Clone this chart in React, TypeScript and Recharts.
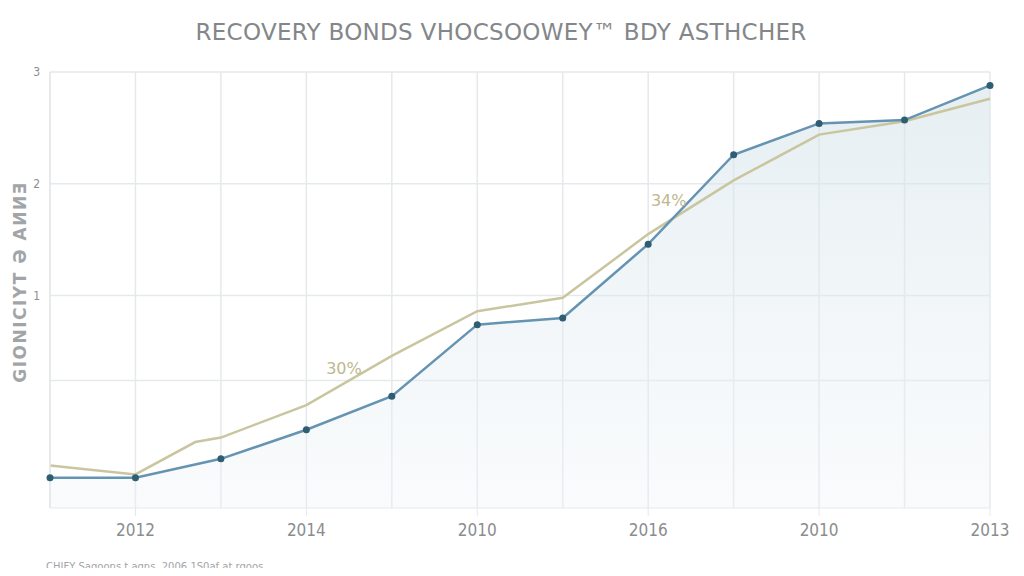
import {
  ComposedChart,
  Area,
  Line,
  XAxis,
  YAxis,
  CartesianGrid,
  ReferenceDot,
} from "recharts";

// x positions are period indices (0..11); the tan series has one extra kink point
const bluePeriods = [0, 1, 2, 3, 4, 5, 6, 7, 8, 9, 10, 11];
const blueValues = [-0.63, -0.63, -0.46, -0.2, 0.1, 0.74, 0.8, 1.46, 2.26, 2.54, 2.57, 2.88];

const tanPeriods = [0, 1, 1.7, 2, 3, 4, 5, 6, 7, 8, 9, 10, 11];
const tanValues = [-0.52, -0.6, -0.31, -0.27, 0.02, 0.46, 0.86, 0.98, 1.55, 2.03, 2.44, 2.56, 2.76];

const xTickPeriods = [1, 3, 5, 7, 9, 11];
const xTickLabels = ["2012", "2014", "2010", "2016", "2010", "2013"];
const yTicks = [1, 2, 3];
const yGridValues = [0.24, 1, 2, 3];
const xGridValues = [0, 1, 2, 3, 4, 5, 6, 7, 8, 9, 10, 11];

const blueData = bluePeriods.map((x, i) => ({ x, v: blueValues[i] }));
const tanData = tanPeriods.map((x, i) => ({ x, v: tanValues[i] }));

const GRID = "#e5e9eb";
const BLUE = "#6594b3";
const DOT = "#2f5d72";
const TAN = "#c9c69f";

export default function App() {
  const tickFont = {
    fontFamily: "'DejaVu Sans Condensed', 'Liberation Sans Narrow', sans-serif",
    fontSize: 17,
    fill: "#8a8d8f",
  };
  return (
    <div
      style={{
        position: "relative",
        width: 1024,
        height: 576,
        margin: -8,
        background: "#fff",
        fontFamily: "'DejaVu Sans', sans-serif",
      }}
    >
      <div
        style={{
          position: "absolute",
          top: 19,
          left: 0,
          width: 1002,
          textAlign: "center",
          fontSize: 23,
          color: "#83878a",
          letterSpacing: 0.3,
        }}
      >
        RECOVERY BONDS VHOCSOOWEY™ BDY ASTHCHER
      </div>
      <div
        style={{
          position: "absolute",
          left: 20,
          top: 282,
          transform: "translate(-50%, -50%) rotate(-90deg)",
          whiteSpace: "nowrap",
          fontSize: 17,
          fontWeight: 600,
          color: "#a2a5a7",
          letterSpacing: 1.5,
        }}
      >
        GIONICIYT Ə AИИƎ
      </div>
      <div
        style={{
          position: "absolute",
          left: 46,
          top: 561,
          fontSize: 10,
          color: "#a2a5a7",
        }}
      >
        CHIFY Sagoons t agns, 2006 1S0af at rgoos
      </div>
      <ComposedChart
        width={1024}
        height={576}
        margin={{ top: 72, right: 34, bottom: 28, left: 36 }}
      >
        <defs>
          <linearGradient id="blueFill" x1="0" y1="0" x2="0" y2="1">
            <stop offset="0%" stopColor="#d3e2e9" stopOpacity={0.95} />
            <stop offset="100%" stopColor="#edf3f6" stopOpacity={0.55} />
          </linearGradient>
        </defs>
        <CartesianGrid
          stroke={GRID}
          strokeWidth={1.5}
          horizontalValues={yGridValues}
          verticalValues={xGridValues}
        />
        <XAxis
          type="number"
          dataKey="x"
          domain={[0, 11]}
          ticks={xTickPeriods}
          tickFormatter={(v: number) => xTickLabels[xTickPeriods.indexOf(v)] ?? ""}
          allowDuplicatedCategory={false}
          height={40}
          stroke={GRID}
          tickSize={8}
          tick={tickFont}
          tickMargin={8}
        />
        <YAxis
          type="number"
          domain={[-0.9, 3]}
          ticks={yTicks}
          width={14}
          axisLine={{ stroke: GRID, strokeWidth: 1.5 }}
          tickLine={false}
          tick={{ ...tickFont, fontSize: 12 }}
          tickMargin={4}
        />
        <Area
          data={blueData}
          dataKey="v"
          type="linear"
          stroke="none"
          fill="url(#blueFill)"
          baseValue="dataMin"
          isAnimationActive={false}
        />
        <Line
          data={tanData}
          dataKey="v"
          type="linear"
          stroke={TAN}
          strokeWidth={2.5}
          dot={false}
          isAnimationActive={false}
        />
        <Line
          data={blueData}
          dataKey="v"
          type="linear"
          stroke={BLUE}
          strokeWidth={2.5}
          dot={{ r: 3.5, fill: DOT, stroke: DOT, strokeWidth: 0 }}
          isAnimationActive={false}
        />
        <ReferenceDot
          x={3.44}
          y={0.35}
          r={0}
          label={{ value: "30%", fill: "#bdb88f", fontSize: 16 }}
        />
        <ReferenceDot
          x={7.24}
          y={1.85}
          r={0}
          label={{ value: "34%", fill: "#bdb88f", fontSize: 16 }}
        />
      </ComposedChart>
    </div>
  );
}
